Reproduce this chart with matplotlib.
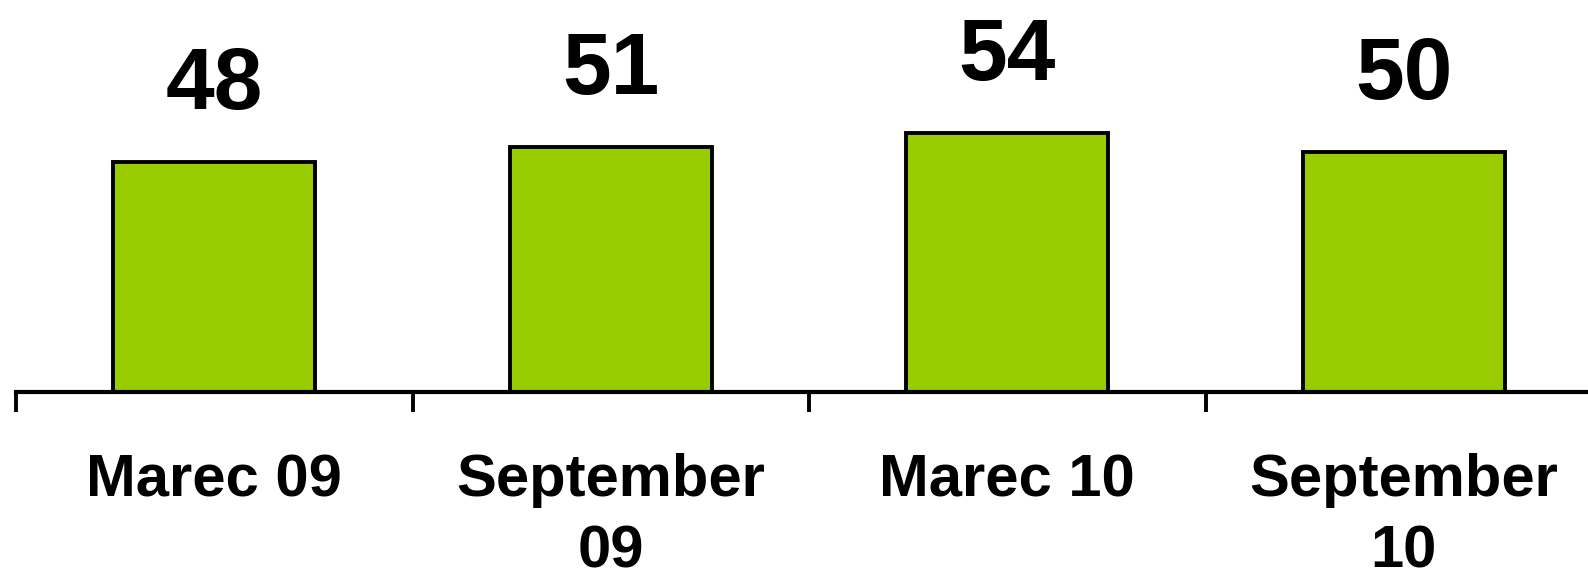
import matplotlib
matplotlib.use("Agg")
import matplotlib.pyplot as plt
from matplotlib.ticker import FixedLocator, NullFormatter

plt.rcParams['font.family'] = ['Liberation Sans', 'DejaVu Sans']

categories = ["Marec 09", "September\n09", "Marec 10", "September\n10"]
values = [48, 51, 54, 50]

bar_color = "#99CC00"

W, H = 1588, 574
fig = plt.figure(figsize=(W / 100, H / 100), dpi=100)
base_px = 392
ax = fig.add_axes([16 / W, 1 - base_px / H, 1586 / W, base_px / H])

x = list(range(len(values)))
ax.bar(x, values, width=0.51, color=bar_color, edgecolor="black", linewidth=2.8, zorder=2)

ax.set_xlim(-0.5, len(values) - 0.5)
ax.set_ylim(0, base_px / 4.8)

for s in ("top", "right", "left"):
    ax.spines[s].set_visible(False)
ax.spines["bottom"].set_linewidth(3)
ax.spines["bottom"].set_zorder(3)
ax.set_yticks([])

ax.set_xticks(x)
ax.set_xticklabels([])
ax.tick_params(axis="x", which="major", length=0)
ax.xaxis.set_minor_locator(FixedLocator([i - 0.5 for i in x]))
ax.xaxis.set_minor_formatter(NullFormatter())
ax.tick_params(axis="x", which="minor", length=14.5, width=2.8, direction="out", color="black")

for xi, v in zip(x, values):
    ax.annotate(str(v), xy=(xi, v), xytext=(0, 38), textcoords="offset points",
                ha="center", va="baseline", fontsize=63, fontweight="bold", annotation_clip=False)

# category labels: each line placed on its own baseline
line_offsets = [-75, -126.5]
for xi, lab in zip(x, categories):
    for line, off in zip(lab.split("\n"), line_offsets):
        ax.annotate(line, xy=(xi, 0), xycoords=("data", "axes fraction"), xytext=(0, off),
                    textcoords="offset points", ha="center", va="baseline",
                    fontsize=43, fontweight="bold", annotation_clip=False)

fig.savefig("out.png", dpi=100)
